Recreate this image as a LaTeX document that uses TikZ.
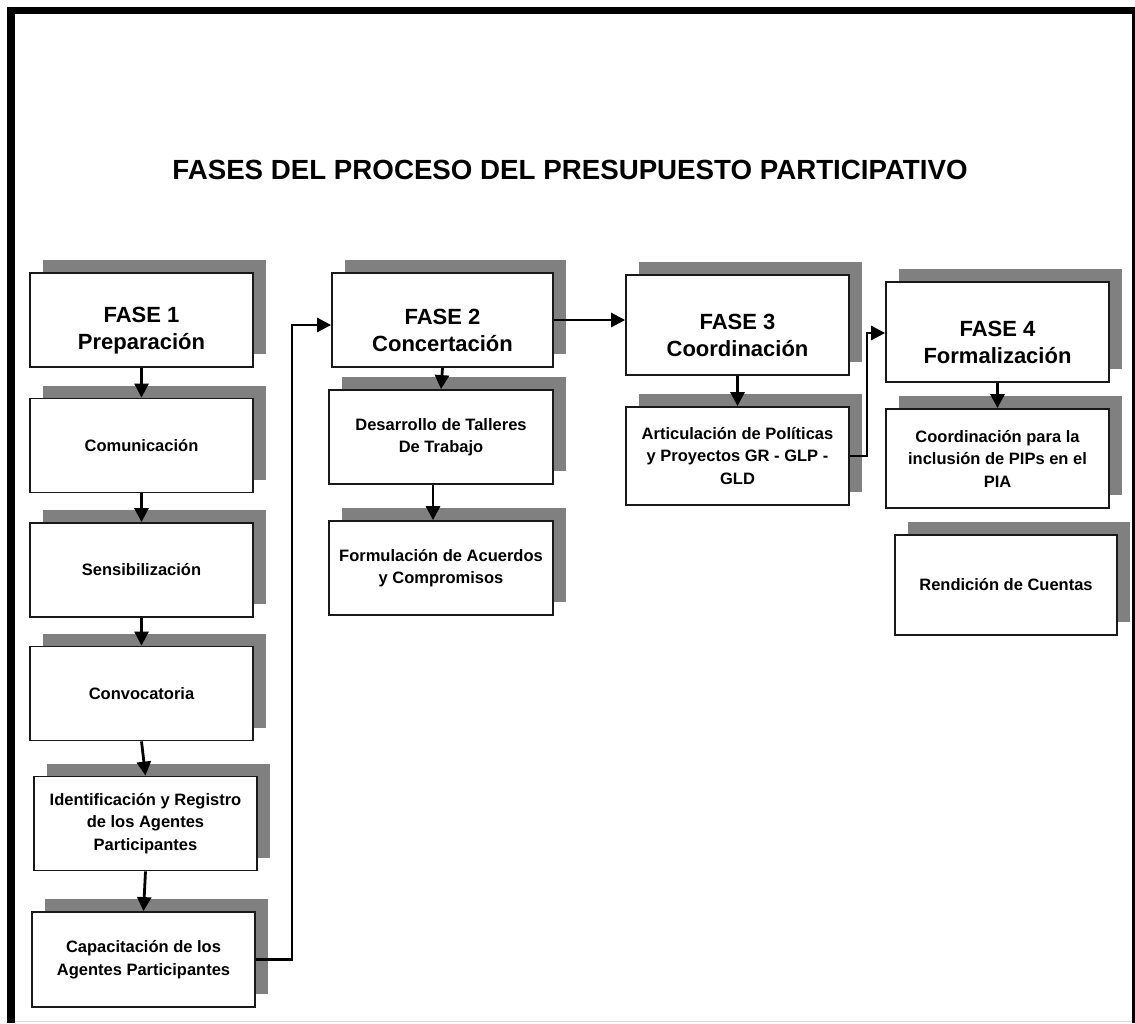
\documentclass[tikz,border=0pt]{standalone}
\usepackage{fontspec}
\setmainfont{Liberation Sans}
\usetikzlibrary{shadows,arrows.meta,calc}
\definecolor{shgray}{RGB}{128,128,128}
\newcommand{\upstrut}{\rule{0pt}{36pt}}
\begin{document}
\begin{tikzpicture}[x=1pt,y=-1pt,
  box/.style={draw=black!90, line width=1.8pt, fill=white, minimum width=223pt,
    minimum height=94pt, align=center, inner sep=2pt,
    font=\fontsize{16.5}{22.5}\selectfont\bfseries,
    drop shadow={shadow xshift=13pt, shadow yshift=13pt, fill=shgray, opacity=1}},
  phase/.style={box, minimum height=98pt, font=\fontsize{22}{27}\selectfont\bfseries},
  arr/.style={line width=2.8pt, -{Triangle[length=14pt,width=14pt]}},
]
\useasboundingbox (0,0) rectangle (1135,1023);
% frame
\fill[black] (7,7) rectangle (1135,14);
\fill[black] (7,7) rectangle (15,1023);
\fill[black] (1132,7) rectangle (1135,1023);
\draw[black!15, line width=1.5pt] (15,1021.5) -- (1132,1021.5);

% title
\node[font=\fontsize{27.7}{31}\selectfont\bfseries] (title) at (570,170) {FASES DEL PROCESO DEL PRESUPUESTO PARTICIPATIVO};

% column 1
\node[phase, minimum height=94pt] (f1) at (141.5,320) {\upstrut FASE 1\\Preparación};
\node[box] (com) at (141.5,445.5) {Comunicación};
\node[box] (sen) at (141.5,570) {Sensibilización};
\node[box] (conv) at (141.5,693.5) {Convocatoria};
\node[box] (ident) at (145.5,823.5) {Identificación y Registro\\de los Agentes\\Participantes};
\node[box, minimum height=95pt] (cap) at (143.5,959.5) {Capacitación de los\\Agentes Participantes};

% column 2
\node[phase, minimum width=221pt, minimum height=94pt] (f2) at (442.5,320) {\upstrut FASE 2\\Concertación};
\node[box, minimum width=224pt] (des) at (441,437) {Desarrollo de Talleres\\De Trabajo};
\node[box, minimum width=224pt] (form) at (441,568) {Formulación de Acuerdos\\y Compromisos};

% column 3
\node[phase, minimum height=100pt] (f3) at (737.5,325) {\upstrut FASE 3\\Coordinación};
\node[box, minimum height=98pt] (art) at (737.5,456) {Articulación de Políticas\\y Proyectos GR - GLP -\\GLD};

% column 4
\node[phase, minimum height=100pt] (f4) at (997.5,332) {\upstrut FASE 4\\Formalización};
\node[box, minimum height=99pt] (coord) at (997.5,458.5) {Coordinación para la\\inclusión de PIPs en el\\PIA};
\node[box, minimum width=222pt, minimum height=100pt] (rend) at (1006,585) {Rendición de Cuentas};

% helper coordinates
\coordinate (j1) at (292,325);
\coordinate (j2) at (867,333);
\coordinate (dx) at (433,0);

% arrows column 1
\draw[arr] (f1.south) -- (com.north);
\draw[arr] (com.south) -- (sen.north);
\draw[arr] (sen.south) -- (conv.north);
\draw[arr] (conv.south) -- (ident.north);
\draw[arr] (ident.south) -- (cap.north);
\draw[arr] (cap.east) -- (cap.east -| j1) -- (j1) -- (j1 -| f2.west);

% column 2
\draw[arr] (f2.south) -- (des.north);
\draw[arr] (des.south -| dx) -- (form.north -| dx);
\draw[arr] (f2.east) -- (f2.east -| f3.west);

% column 3
\draw[arr] (f3.south) -- (art.north);
\draw[arr] (art.east) -- (art.east -| j2) -- (j2) -- (j2 -| f4.west);

% column 4
\draw[arr] (f4.south) -- (coord.north);
\end{tikzpicture}
\end{document}
